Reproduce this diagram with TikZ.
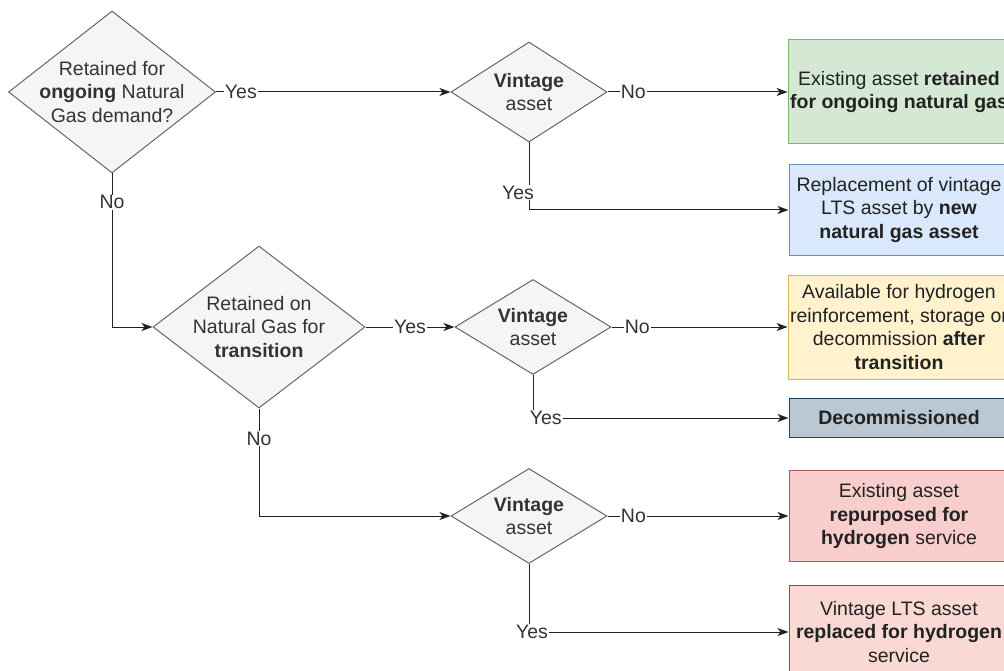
\documentclass[tikz,border=0pt]{standalone}
\usepackage{fontspec}
\setmainfont{Liberation Sans}
\usepackage{tikz}
\usetikzlibrary{shapes.geometric}
\usetikzlibrary{arrows.meta}
\definecolor{qfill}{HTML}{F5F5F5}
\definecolor{qdraw}{HTML}{666666}
\definecolor{qtext}{HTML}{333333}
\definecolor{btext}{HTML}{222222}
\definecolor{greenfill}{HTML}{D5E8D4}
\definecolor{greendraw}{HTML}{82B366}
\definecolor{bluefill}{HTML}{DAE8FC}
\definecolor{bluedraw}{HTML}{6C8EBF}
\definecolor{yellowfill}{HTML}{FFF2CC}
\definecolor{yellowdraw}{HTML}{D6B656}
\definecolor{greyfill}{HTML}{BAC8D3}
\definecolor{greydraw}{HTML}{23445D}
\definecolor{redfill}{HTML}{F8CECC}
\definecolor{reddraw}{HTML}{B85450}
\definecolor{pinkfill}{HTML}{FAD9D5}
\definecolor{pinkdraw}{HTML}{AE4132}
\newcommand{\chartfont}{\fontsize{19.5}{23.5}\selectfont}
\tikzstyle{decision}=[diamond, draw=qdraw, fill=qfill, text=qtext, line width=1pt, inner sep=-14pt, align=center, font=\chartfont]
\tikzstyle{outcome}=[rectangle, line width=1pt, minimum width=220pt, inner sep=2pt, align=center, text=btext, font=\chartfont]
\tikzstyle{elabel}=[fill=white, inner sep=1pt, text=qtext, font=\chartfont]
\tikzstyle{arrow}=[-{Stealth[length=11pt,width=8pt,inset=3pt]}, line width=1pt, draw=btext]

\begin{document}
\begin{tikzpicture}[x=1pt, y=-1pt]
    \useasboundingbox (0,0) rectangle (1004,671);
    \clip (0,0) rectangle (1004,671);

    %questions
    \node[decision, minimum width=207pt, minimum height=162pt] (q1) at (112,92) {Retained for\\\textbf{ongoing} Natural\\Gas demand?};
    \node[decision, minimum width=212pt, minimum height=162pt] (q2) at (259,327) {Retained on\\Natural Gas for\\\textbf{transition}};

    %vintage checks
    \foreach \n/\x/\y/\h in {v1/529/92/100, v2/533/327/95, v3/529/516/95} {
    \node[decision, minimum width=156pt, minimum height=\h pt] (\n) at (\x,\y) {\textbf{Vintage}\\asset};
    }

    %outcomes
    \node[outcome, fill=greenfill, draw=greendraw, minimum height=104pt] (retained) at (899,92) {Existing asset \textbf{retained}\\\textbf{for ongoing natural gas}};
    \node[outcome, fill=bluefill, draw=bluedraw, minimum height=91pt] (replaced) at (899,210) {Replacement of vintage\\LTS asset by \textbf{new}\\\textbf{natural gas asset}};
    \node[outcome, fill=yellowfill, draw=yellowdraw, minimum height=104pt] (available) at (899,327) {Available for hydrogen\\reinforcement, storage or\\decommission \textbf{after}\\\textbf{transition}};
    \node[outcome, fill=greyfill, draw=greydraw, minimum height=39pt] (decom) at (899,418) {\textbf{Decommissioned}};
    \node[outcome, fill=redfill, draw=reddraw, minimum height=91pt] (repurposed) at (899,516) {Existing asset\\\textbf{repurposed for}\\\textbf{hydrogen} service};
    \node[outcome, fill=pinkfill, draw=pinkdraw, minimum height=94pt] (hreplaced) at (899,632) {Vintage LTS asset\\\textbf{replaced for hydrogen}\\service};

    %connectors
    \draw[arrow] (q1.east) -- node[elabel, pos=0.106] {Yes} (v1.west);
    \draw[arrow] (v1.east) -- node[elabel, pos=0.143] {No} (retained.west);
    \draw[arrow] (v1.south) |- node[elabel, pos=0.37, xshift=-11pt] {Yes} (replaced.west);
    \draw[arrow] (q1.south) |- node[elabel, pos=0.094] {No} (q2.west);
    \draw[arrow] (q2.east) -- node[elabel] {Yes} (v2.west);
    \draw[arrow] (v2.east) -- node[elabel, pos=0.146] {No} (available.west);
    \draw[arrow] (v2.south) |- node[elabel, pos=0.525] {Yes} (decom.west);
    \draw[arrow] (q2.south) |- node[elabel, pos=0.139] {No} (v3.west);
    \draw[arrow] (v3.east) -- node[elabel, pos=0.143] {No} (repurposed.west);
    \draw[arrow] (v3.south) |- node[elabel, pos=0.5, xshift=3pt] {Yes} (hreplaced.west);

\end{tikzpicture}
\end{document}
